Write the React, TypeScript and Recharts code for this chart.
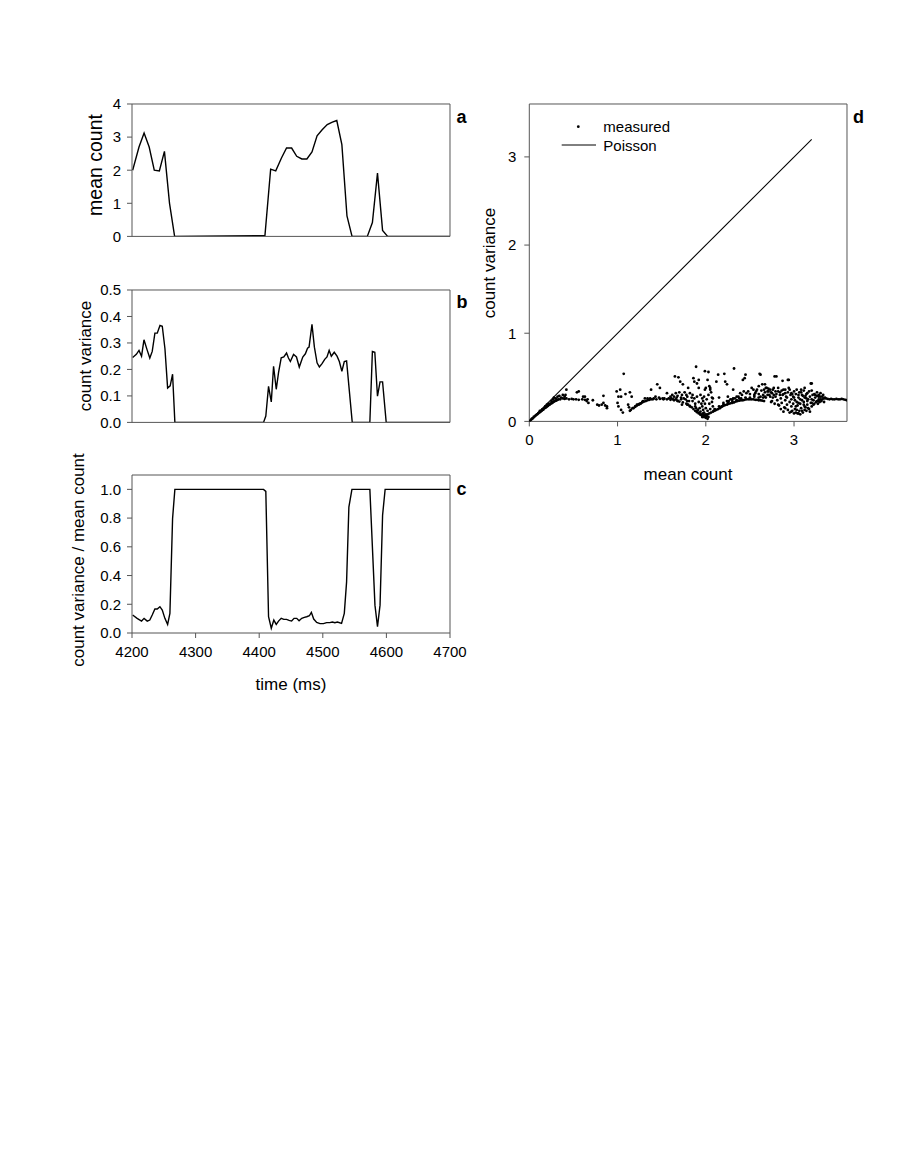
import React from 'react';
import { LineChart, Line, XAxis, YAxis, ScatterChart, Scatter } from 'recharts';

const FONT = '"Liberation Sans", Arial, Helvetica, sans-serif';
const AXIS = '#555';

const timeTicks = [4200, 4300, 4400, 4500, 4600, 4700];
const meanTicks = [0, 1, 2, 3, 4];
const varTicks = [0, 0.1, 0.2, 0.3, 0.4, 0.5];
const ratioTicks = [0, 0.2, 0.4, 0.6, 0.8, 1.0];
const scatterTicks = [0, 1, 2, 3];

// panel a: mean count vs time
const meanTimes = [4201, 4211, 4219, 4227, 4235, 4243, 4251, 4259, 4267, 4409, 4418, 4426, 4435, 4443, 4451, 4459, 4467, 4475, 4483, 4491, 4499, 4507, 4515, 4522, 4530, 4538, 4546, 4570, 4578, 4586, 4594, 4602, 4700];
const meanValues = [2.0, 2.7, 3.12, 2.7, 2.0, 1.98, 2.57, 1.0, 0, 0.02, 2.03, 1.98, 2.37, 2.67, 2.67, 2.42, 2.34, 2.34, 2.55, 3.04, 3.22, 3.38, 3.45, 3.5, 2.77, 0.62, 0, 0, 0.42, 1.91, 0.18, 0, 0];

// panel b: count variance vs time
const varTimes = [4201, 4206.8, 4211, 4215, 4218.8, 4224, 4228, 4231.8, 4236, 4239.7, 4244, 4247.6, 4251.8, 4256, 4260, 4263.8, 4267.4, 4406.8, 4410.4, 4414.7, 4419, 4422.6, 4426.8, 4430.4, 4434.6, 4438.7, 4443, 4446, 4449, 4454, 4458.6, 4463, 4468.5, 4472.6, 4476, 4478.4, 4483, 4486.8, 4491, 4494.6, 4498.8, 4503, 4506.6, 4510, 4513.4, 4518, 4522.4, 4526, 4530, 4533.8, 4537.4, 4546.3, 4574, 4578, 4581.8, 4586, 4590, 4594, 4599.7, 4700];
const varValues = [0.245, 0.257, 0.272, 0.25, 0.312, 0.272, 0.243, 0.268, 0.337, 0.337, 0.366, 0.363, 0.278, 0.13, 0.138, 0.182, 0, 0, 0.024, 0.136, 0.077, 0.212, 0.125, 0.188, 0.244, 0.247, 0.262, 0.243, 0.23, 0.257, 0.247, 0.209, 0.247, 0.259, 0.28, 0.284, 0.37, 0.284, 0.225, 0.209, 0.222, 0.238, 0.247, 0.272, 0.25, 0.265, 0.25, 0.23, 0.193, 0.23, 0.232, 0, 0, 0.268, 0.265, 0.099, 0.153, 0.153, 0, 0];

// panel c: count variance / mean count vs time
const ratioTimes = [4201, 4208, 4215, 4219, 4224, 4228, 4231.8, 4236, 4239.7, 4243.9, 4247.6, 4251.7, 4256, 4259.6, 4263.8, 4267.4, 4406.8, 4410.4, 4414.7, 4419, 4423, 4426.8, 4430.4, 4434.6, 4438.7, 4443, 4447, 4451, 4454.8, 4459, 4462.7, 4466.9, 4471, 4474.7, 4478.9, 4482, 4485.7, 4490.4, 4495.6, 4501, 4506, 4511, 4515, 4519, 4523, 4529.5, 4533.8, 4537.4, 4541, 4545.8, 4574, 4582, 4586, 4590, 4594, 4598, 4700];
const ratioValues = [0.125, 0.102, 0.083, 0.102, 0.083, 0.09, 0.125, 0.167, 0.167, 0.183, 0.16, 0.102, 0.06, 0.137, 0.797, 1.0, 1.0, 0.986, 0.113, 0.033, 0.09, 0.06, 0.083, 0.102, 0.095, 0.095, 0.088, 0.083, 0.102, 0.102, 0.085, 0.102, 0.109, 0.113, 0.12, 0.144, 0.097, 0.074, 0.065, 0.065, 0.072, 0.072, 0.076, 0.072, 0.076, 0.067, 0.137, 0.356, 0.877, 1.0, 1.0, 0.194, 0.044, 0.194, 0.82, 1.0, 1.0];

// panel d: measured (mean count, count variance) pairs
const measuredPoints = [
  [0, 0], [0.01, 0.01], [0.02, 0.02], [0.03, 0.03], [0.04, 0.035], [0.05, 0.05], [0.06, 0.055], [0.07, 0.065], [0.08, 0.075], [0.09, 0.08],
  [0.1, 0.09], [0.11, 0.1], [0.12, 0.105], [0.13, 0.115], [0.14, 0.12], [0.15, 0.13], [0.16, 0.135], [0.17, 0.15], [0.18, 0.155], [0.19, 0.16],
  [0.2, 0.17], [0.21, 0.175], [0.22, 0.185], [0.23, 0.19], [0.24, 0.2], [0.25, 0.205], [0.26, 0.21], [0.27, 0.22], [0.28, 0.225], [0.29, 0.23],
  [0.3, 0.235], [0.31, 0.24], [0.32, 0.245], [0.33, 0.25], [0.35, 0.25], [0.12, 0.12], [0.15, 0.14], [0.18, 0.17], [0.2, 0.19], [0.22, 0.2],
  [0.25, 0.23], [0.27, 0.25], [0.28, 0.27], [0.3, 0.26], [0.32, 0.28], [0.34, 0.29], [0.36, 0.27], [0.38, 0.3], [0.4, 0.28], [0.42, 0.36],
  [0.41, 0.3], [0.38, 0.26], [0.4, 0.255], [0.42, 0.26], [0.45, 0.25], [0.48, 0.255], [0.5, 0.25], [0.53, 0.25], [0.56, 0.245], [0.6, 0.25],
  [0.63, 0.245], [0.66, 0.25], [0.54, 0.33], [0.56, 0.34], [0.61, 0.28], [0.63, 0.28], [0.65, 0.23], [0.67, 0.21], [0.72, 0.24], [0.77, 0.19],
  [0.79, 0.18], [0.82, 0.19], [0.84, 0.29], [0.84, 0.21], [0.86, 0.18], [0.88, 0.15], [0.88, 0.17],
  [0.99, 0.34], [1.0, 0.21], [1.01, 0.17], [1.01, 0.28], [1.03, 0.36], [1.04, 0.28], [1.04, 0.13], [1.06, 0.1], [1.07, 0.54], [1.09, 0.31],
  [1.12, 0.19], [1.13, 0.16], [1.14, 0.33], [1.16, 0.28], [1.17, 0.15], [1.14, 0.12], [1.2, 0.17], [1.22, 0.19], [1.24, 0.19], [1.26, 0.2],
  [1.28, 0.22], [1.29, 0.23], [1.31, 0.26], [1.34, 0.26], [1.37, 0.26], [1.38, 0.36], [1.41, 0.26], [1.43, 0.28], [1.45, 0.42], [1.47, 0.27],
  [1.48, 0.38], [1.51, 0.26], [1.53, 0.26], [1.56, 0.32], [1.58, 0.26], [1.6, 0.28], [1.61, 0.26], [1.63, 0.25], [1.65, 0.51], [1.66, 0.32],
  [1.67, 0.27], [1.68, 0.23], [1.69, 0.5], [1.71, 0.45], [1.72, 0.25], [1.74, 0.42], [1.75, 0.26], [1.77, 0.25], [1.79, 0.23], [1.73, 0.19],
  [1.79, 0.19], [1.15, 0.13], [1.18, 0.15], [1.2, 0.165], [1.22, 0.18], [1.24, 0.195], [1.26, 0.205], [1.28, 0.215], [1.3, 0.225], [1.32, 0.23],
  [1.34, 0.24], [1.36, 0.245], [1.38, 0.25], [1.4, 0.25], [1.44, 0.25], [1.48, 0.255], [1.52, 0.25], [1.56, 0.25], [1.6, 0.245], [1.64, 0.24],
  [1.68, 0.235], [1.7, 0.225], [1.74, 0.215], [1.78, 0.2], [1.8, 0.19], [1.82, 0.175], [1.84, 0.16], [1.86, 0.14], [1.88, 0.12], [1.9, 0.105],
  [1.92, 0.09], [1.94, 0.075], [1.96, 0.06], [1.98, 0.05], [1.62, 0.3], [1.64, 0.28], [1.7, 0.33], [1.73, 0.3], [1.76, 0.33], [1.78, 0.3],
  [1.68, 0.29], [1.66, 0.25], [1.72, 0.27], [1.82, 0.32], [1.84, 0.27],
  [1.79, 0.28], [1.8, 0.38], [1.81, 0.23], [1.82, 0.17], [1.86, 0.49], [1.87, 0.45], [1.89, 0.62], [1.9, 0.43], [1.92, 0.47], [1.92, 0.38],
  [1.85, 0.23], [1.88, 0.17], [1.91, 0.13], [1.94, 0.11], [1.96, 0.08], [1.97, 0.09], [1.99, 0.06], [2.0, 0.04], [2.02, 0.08], [1.96, 0.17],
  [1.97, 0.23], [1.98, 0.28], [1.99, 0.36], [2.0, 0.38], [1.99, 0.57], [2.03, 0.56], [2.02, 0.47], [2.04, 0.4], [2.05, 0.36], [2.07, 0.27],
  [2.08, 0.17], [2.09, 0.12], [2.11, 0.13], [2.12, 0.45], [2.14, 0.53], [2.15, 0.27], [2.16, 0.15], [2.18, 0.17], [2.2, 0.21], [2.21, 0.54],
  [2.22, 0.45], [2.24, 0.42], [2.24, 0.23], [2.26, 0.23], [2.28, 0.25], [2.3, 0.25], [2.31, 0.26], [2.32, 0.6], [2.33, 0.26], [2.35, 0.28],
  [2.37, 0.28], [2.39, 0.32], [2.41, 0.3], [2.43, 0.34], [2.44, 0.49], [2.45, 0.53], [2.46, 0.32], [2.48, 0.34], [2.5, 0.31], [2.52, 0.38],
  [2.54, 0.36], [2.56, 0.32], [2.58, 0.36], [2.6, 0.4], [2.62, 0.53], [2.64, 0.42], [2.66, 0.36], [2.68, 0.38], [2.7, 0.34],
  [1.85, 0.3], [1.87, 0.26], [1.88, 0.2], [1.9, 0.28], [1.92, 0.22], [1.93, 0.15], [1.94, 0.3], [1.95, 0.2], [1.96, 0.26], [1.97, 0.13],
  [1.98, 0.1], [1.99, 0.2], [2.0, 0.08], [2.0, 0.15], [2.01, 0.25], [2.01, 0.06], [2.02, 0.12], [2.03, 0.3], [2.03, 0.05], [2.04, 0.2],
  [2.05, 0.14], [2.06, 0.33], [2.07, 0.22], [1.96, 0.05], [1.98, 0.07], [2.02, 0.03], [1.94, 0.08], [1.92, 0.1], [1.9, 0.12], [1.89, 0.15],
  [2.04, 0.09], [2.06, 0.1], [2.08, 0.11], [2.1, 0.12], [2.12, 0.13], [2.14, 0.14], [2.16, 0.155], [2.18, 0.165], [2.2, 0.175], [2.22, 0.185],
  [2.24, 0.19], [2.26, 0.2], [2.28, 0.205], [2.3, 0.21], [2.32, 0.215], [2.34, 0.225], [2.36, 0.23], [2.38, 0.235], [2.4, 0.24], [2.42, 0.24],
  [2.44, 0.245], [2.46, 0.25], [2.48, 0.25], [2.5, 0.25], [2.52, 0.25], [2.54, 0.25], [2.56, 0.245], [2.58, 0.245], [2.6, 0.24], [2.62, 0.24],
  [2.64, 0.235], [2.66, 0.23], [2.1, 0.14], [2.15, 0.17], [2.2, 0.19], [2.25, 0.21], [2.3, 0.23], [2.35, 0.24], [2.4, 0.26], [2.45, 0.27],
  [2.5, 0.27], [2.55, 0.28], [2.6, 0.27], [2.65, 0.27],
  [2.67, 0.42], [2.69, 0.38], [2.71, 0.34], [2.73, 0.36], [2.75, 0.32], [2.77, 0.38], [2.79, 0.28], [2.8, 0.51], [2.82, 0.34], [2.84, 0.3],
  [2.87, 0.46], [2.88, 0.36], [2.9, 0.32], [2.92, 0.27], [2.94, 0.47], [2.94, 0.38], [2.97, 0.32], [2.97, 0.25], [2.99, 0.28], [3.01, 0.24],
  [3.02, 0.17], [3.03, 0.13], [3.04, 0.09], [3.05, 0.21], [3.07, 0.25], [3.08, 0.36], [3.09, 0.3], [3.11, 0.19], [3.12, 0.13], [3.12, 0.38],
  [3.14, 0.26], [3.15, 0.23], [3.17, 0.34], [3.19, 0.43], [3.2, 0.25], [3.22, 0.19], [3.24, 0.3], [3.26, 0.23], [3.28, 0.28], [3.3, 0.25],
  [3.32, 0.28], [3.34, 0.26], [3.36, 0.26], [3.38, 0.255], [3.4, 0.25], [3.42, 0.255], [3.44, 0.25], [3.46, 0.25], [3.48, 0.255], [3.5, 0.25],
  [3.52, 0.25], [3.54, 0.255], [3.56, 0.25], [3.58, 0.245], [3.6, 0.24],
  [2.67, 0.28], [2.75, 0.23], [2.82, 0.19], [2.9, 0.15], [2.97, 0.11], [3.05, 0.09], [3.12, 0.17], [3.2, 0.21], [3.28, 0.23],
  [2.72, 0.3], [2.74, 0.22], [2.76, 0.27], [2.78, 0.2], [2.8, 0.31], [2.81, 0.24], [2.83, 0.18], [2.85, 0.26], [2.86, 0.21], [2.87, 0.3],
  [2.89, 0.16], [2.9, 0.24], [2.91, 0.28], [2.92, 0.19], [2.93, 0.13], [2.95, 0.22], [2.96, 0.3], [2.97, 0.17], [2.98, 0.12], [2.99, 0.2],
  [3.0, 0.27], [3.01, 0.14], [3.02, 0.31], [3.03, 0.22], [3.04, 0.18], [3.05, 0.27], [3.06, 0.12], [3.06, 0.33], [3.07, 0.2], [3.08, 0.15],
  [3.09, 0.24], [3.1, 0.29], [3.1, 0.1], [3.11, 0.22], [3.12, 0.27], [3.13, 0.16], [3.14, 0.31], [3.15, 0.19], [3.16, 0.25], [3.17, 0.14],
  [3.18, 0.28], [3.19, 0.21], [3.2, 0.17], [3.21, 0.3], [3.22, 0.24], [3.23, 0.2], [3.24, 0.27], [3.25, 0.22], [3.26, 0.29], [3.27, 0.2],
  [3.28, 0.25], [3.29, 0.22], [3.3, 0.28], [3.31, 0.23], [3.32, 0.25], [3.33, 0.3], [3.34, 0.22], [3.35, 0.27],
  [2.55, 0.3], [2.57, 0.34], [2.6, 0.31], [2.62, 0.28], [2.63, 0.35], [2.65, 0.3], [2.67, 0.33], [2.68, 0.27], [2.7, 0.3], [2.71, 0.37],
  [2.73, 0.28], [2.74, 0.33], [2.76, 0.36], [2.77, 0.3], [2.79, 0.34], [2.82, 0.38], [2.84, 0.33], [2.86, 0.35], [2.88, 0.31], [2.9, 0.36],
  [2.93, 0.33], [2.95, 0.36], [2.98, 0.31], [3.0, 0.34], [3.03, 0.36], [3.05, 0.3], [3.08, 0.33], [3.11, 0.35], [3.13, 0.29], [3.15, 0.32],
  [3.2, 0.35], [3.23, 0.31], [3.26, 0.33], [3.28, 0.3], [3.3, 0.32],
  [2.61, 0.54], [2.78, 0.51], [2.93, 0.47], [3.2, 0.43], [2.42, 0.47], [2.31, 0.36], [2.25, 0.28], [2.38, 0.26], [2.05, 0.38], [2.08, 0.26],
  [2.85, 0.14], [2.88, 0.11], [2.95, 0.1], [3.0, 0.09], [3.02, 0.1], [3.07, 0.08], [3.09, 0.12], [3.14, 0.12], [3.16, 0.15], [3.18, 0.11],
];

// Poisson reference: variance equals mean
const poissonMeans = [0, 3.2];

const meanData = meanTimes.map((t, i) => ({ t, v: meanValues[i] }));
const varData = varTimes.map((t, i) => ({ t, v: varValues[i] }));
const ratioData = ratioTimes.map((t, i) => ({ t, v: ratioValues[i] }));
const measuredData = measuredPoints.map(([x, y]) => ({ x, y }));
const poissonData = poissonMeans.map((m) => ({ x: m, y: m }));

const tickStyle = { fontSize: 15, fill: '#000', fontFamily: FONT };

function TimePanel(props: any) {
  const { data, plotTop, plotHeight, yDomain, yTicks, yFormat, showXLabels } = props;
  const xAxisH = showXLabels ? 30 : 8;
  const height = 10 + plotHeight + xAxisH;
  return (
    <div style={{ position: 'absolute', left: 0, top: plotTop - 10 }}>
      <LineChart width={470} height={height} data={data} margin={{ top: 9, right: 19, bottom: 0, left: 0 }}>
        <XAxis
          dataKey="t"
          type="number"
          domain={[4200, 4700]}
          ticks={timeTicks}
          interval={0}
          allowDataOverflow
          height={xAxisH}
          stroke={AXIS}
          tickSize={5}
          tickMargin={8}
          tick={showXLabels ? tickStyle : false}
        />
        <YAxis
          type="number"
          domain={yDomain}
          ticks={yTicks}
          interval={0}
          allowDataOverflow
          width={132}
          stroke={AXIS}
          tickSize={5}
          tickMargin={6}
          tick={tickStyle}
          tickFormatter={yFormat}
        />
        <XAxis xAxisId="top" orientation="top" type="number" domain={[4200, 4700]} allowDataOverflow height={1} stroke={AXIS} tick={false} tickLine={false} />
        <YAxis yAxisId="right" orientation="right" type="number" domain={yDomain} allowDataOverflow width={1} stroke={AXIS} tick={false} tickLine={false} />
        <Line type="linear" dataKey="v" stroke="#000" strokeWidth={1.4} dot={false} isAnimationActive={false} />
      </LineChart>
    </div>
  );
}

const Dot = (p: any) => <circle cx={p.cx} cy={p.cy} r={1.4} fill="#000" />;
const NoShape = () => <g />;

function ScatterPanel() {
  return (
    <div style={{ position: 'absolute', left: 440, top: 94.3 }}>
      <ScatterChart width={427} height={10 + 317.4 + 40} margin={{ top: 9, right: 19, bottom: 0, left: 0 }}>
        <XAxis type="number" dataKey="x" domain={[0, 3.6]} ticks={scatterTicks} interval={0} allowDataOverflow height={40} stroke={AXIS} tickSize={5} tickMargin={8} tick={tickStyle} />
        <YAxis type="number" dataKey="y" domain={[0, 3.6]} ticks={scatterTicks} interval={0} allowDataOverflow width={89.3} stroke={AXIS} tickSize={5} tickMargin={8} tick={tickStyle} />
        <XAxis xAxisId="top" orientation="top" type="number" domain={[0, 3.6]} allowDataOverflow height={1} stroke={AXIS} tick={false} tickLine={false} />
        <YAxis yAxisId="right" orientation="right" type="number" domain={[0, 3.6]} allowDataOverflow width={1} stroke={AXIS} tick={false} tickLine={false} />
        <Scatter name="Poisson" data={poissonData} line={{ stroke: '#000', strokeWidth: 1.1 }} shape={NoShape} isAnimationActive={false} />
        <Scatter name="measured" data={measuredData} shape={Dot} isAnimationActive={false} />
      </ScatterChart>
    </div>
  );
}

const txt = { fontFamily: FONT, fill: '#000' };

export default function App() {
  return (
    <div style={{ position: 'absolute', left: 0, top: 0, width: 900, height: 1164, background: '#fff' }}>
      <TimePanel data={meanData} plotTop={104.3} plotHeight={132.4} yDomain={[0, 4]} yTicks={meanTicks} yFormat={(v: number) => String(v)} showXLabels={false} />
      <TimePanel data={varData} plotTop={289.5} plotHeight={132.4} yDomain={[0, 0.5]} yTicks={varTicks} yFormat={(v: number) => v.toFixed(1)} showXLabels={false} />
      <TimePanel data={ratioData} plotTop={475.3} plotHeight={158} yDomain={[0, 1.1]} yTicks={ratioTicks} yFormat={(v: number) => v.toFixed(1)} showXLabels={true} />
      <ScatterPanel />
      <svg width={900} height={1164} style={{ position: 'absolute', left: 0, top: 0, pointerEvents: 'none' }}>
        <text {...txt} fontSize={19.5} textAnchor="middle" dominantBaseline="central" transform="rotate(-90 95 165)" x={95} y={165}>mean count</text>
        <text {...txt} fontSize={17} textAnchor="middle" dominantBaseline="central" transform="rotate(-90 85 356)" x={85} y={356}>count variance</text>
        <text {...txt} fontSize={17} textAnchor="middle" dominantBaseline="central" transform="rotate(-90 78 560)" x={78} y={560}>count variance / mean count</text>
        <text {...txt} fontSize={17} textAnchor="middle" x={291} y={690}>time (ms)</text>
        <text {...txt} fontSize={17} textAnchor="middle" dominantBaseline="central" transform="rotate(-90 489 263)" x={489} y={263}>count variance</text>
        <text {...txt} fontSize={17} textAnchor="middle" x={688} y={480}>mean count</text>
        <text {...txt} fontSize={18} fontWeight="bold" x={456.5} y={123.3}>a</text>
        <text {...txt} fontSize={18} fontWeight="bold" x={456.5} y={308}>b</text>
        <text {...txt} fontSize={18} fontWeight="bold" x={456.5} y={495}>c</text>
        <text {...txt} fontSize={18} fontWeight="bold" x={853} y={123.3}>d</text>
        <circle cx={578.3} cy={126.7} r={1.4} fill="#000" />
        <text {...txt} fontSize={15} x={603.3} y={132}>measured</text>
        <line x1={561.7} x2={596} y1={145} y2={145} stroke="#000" strokeWidth={1} />
        <text {...txt} fontSize={15} x={603.3} y={150.5}>Poisson</text>
      </svg>
    </div>
  );
}
